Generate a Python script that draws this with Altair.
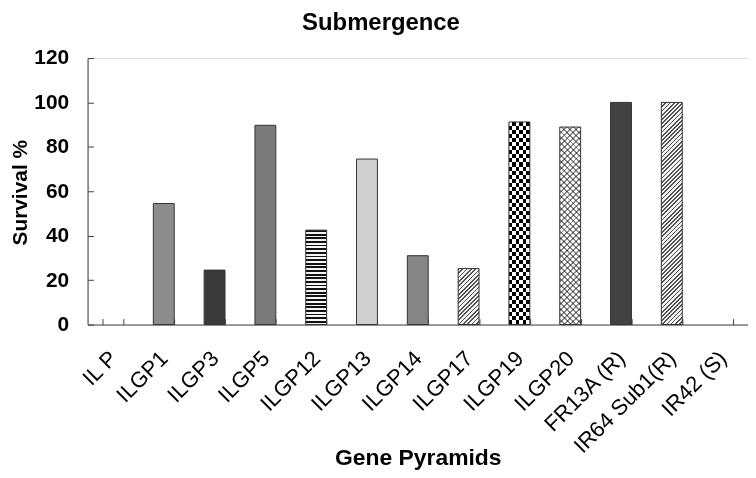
import altair as alt
import pandas as pd

# ---------------- data ----------------
categories = ["IL P", "ILGP1", "ILGP3", "ILGP5", "ILGP12", "ILGP13", "ILGP14",
              "ILGP17", "ILGP19", "ILGP20", "FR13A (R)", "IR64 Sub1(R)", "IR42 (S)"]
survival = [0, 54.5, 24.5, 89.7, 42.5, 74.5, 31.0, 25.2, 91.2, 88.9, 100, 100, 0]
y_ticks = [0, 20, 40, 60, 80, 100, 120]

# base tones (average grey of each bar's pattern)
fills = ["#ffffff", "#8c8c8c", "#3a3a3a", "#7a7a7a", "#9a9a9a", "#d0d0d0", "#858585",
         "#c2c2c2", "#808080", "#cccccc", "#424242", "#b6b6b6", "#ffffff"]

df = pd.DataFrame({"cat": categories, "val": survival})

FONT = "Liberation Sans"
BAR_W = 21          # bar width in px (style constant for the hatch geometry)
PX_PER_UNIT = 268 / 120


def stripes(n, c1, c2, frac, x1, y1, x2, y2):
    stops = []
    for i in range(n):
        a, b, c = i / n, (i + frac) / n, (i + 1) / n
        stops += [{"offset": a, "color": c1}, {"offset": b, "color": c1},
                  {"offset": b, "color": c2}, {"offset": c, "color": c2}]
    return {"gradient": "linear", "x1": x1, "y1": y1, "x2": x2, "y2": y2, "stops": stops}


def diag(value, period, c1, c2, frac, mirrored=False):
    h = value * PX_PER_UNIT
    p, q = BAR_W / h, 1.0
    s = (p + q) / (p * p + q * q)
    n = max(1, round((BAR_W + h) / 1.4142 / period))
    if mirrored:
        return stripes(n, c1, c2, frac, 1, 0, 1 - p * s, q * s)
    return stripes(n, c1, c2, frac, 0, 0, p * s, q * s)


x_enc = alt.X(
    "cat:N", sort=categories,
    scale=alt.Scale(paddingInner=0.589, paddingOuter=0.2945),
    axis=alt.Axis(
        title="Gene Pyramids", labelAngle=-45, labelAlign="right", labelBaseline="middle",
        labelFont=FONT, labelFontSize=22, labelColor="#000000", labelPadding=36,
        labelOffset=0, tickBand="extent", tickSize=alt.ExprRef("-6"), tickColor="#444444",
        domainColor="#444444", labelOverlap=False, labelBound=False,
        titleFont=FONT, titleFontSize=23, titleFontWeight="bold", titleColor="#000000",
        titleX=332, titleY=134, titleAlign="center", titleBaseline="middle",
    ),
)
y_enc = alt.Y(
    "val:Q",
    scale=alt.Scale(domain=[0, 120], nice=False),
    axis=alt.Axis(
        title="Survival %", values=y_ticks, grid=False, labelFont=FONT, labelFontSize=21,
        labelFontWeight="bold", labelColor="#000000", labelPadding=25,
        tickSize=alt.ExprRef("-6"), tickColor="#444444", domainColor="#444444",
        titleFont=FONT, titleFontSize=21, titleFontWeight="bold", titleColor="#000000",
        titleX=-67, titleY=135, titleAlign="center", titleBaseline="middle", titleAngle=-90,
    ),
)

base = alt.Chart(df)

bars = base.mark_bar(strokeWidth=0).encode(
    x=x_enc, y=y_enc,
    fill=alt.Fill("cat:N", scale=alt.Scale(domain=categories, range=fills), legend=None),
)


def pattern(cat, grad, blend=None):
    kw = {"fill": grad, "strokeWidth": 0}
    if blend:
        kw["blend"] = blend
    return base.mark_bar(**kw).encode(x=x_enc, y=y_enc).transform_filter(alt.datum.cat == cat)


val = dict(zip(categories, survival))

layers = [
    bars,
    pattern("ILGP12", stripes(26, "#111111", "#f4f4f4", 0.5, 0, 0, 0, 1)),
    pattern("ILGP17", diag(val["ILGP17"], 3.0, "#555555", "#f2f2f2", 0.4)),
    pattern("IR64 Sub1(R)", diag(val["IR64 Sub1(R)"], 3.0, "#555555", "#f2f2f2", 0.42)),
    pattern("ILGP19", stripes(25, "#000000", "#ffffff", 0.5, 0, 0, 0, 1)),
    pattern("ILGP19", stripes(3, "#ffffff", "#000000", 0.5, 0, 0, 1, 0), blend="difference"),
    pattern("ILGP20", diag(val["ILGP20"], 4.2, "#8a8a8a", "#ffffff", 0.33)),
    pattern("ILGP20", diag(val["ILGP20"], 4.2, "#8a8a8a", "#ffffff", 0.33, mirrored=True),
            blend="multiply"),
]

outline = base.mark_bar(fillOpacity=0, stroke="#333333", strokeWidth=1).encode(
    x=x_enc, y=y_enc).transform_filter(alt.datum.val > 0)
layers.append(outline)

chart = alt.layer(*layers).properties(
    width=664, height=268,
    title=alt.TitleParams("Submergence", font=FONT, fontSize=24, fontWeight="bold",
                          color="#000000", anchor="middle", dx=-37, offset=12),
    autosize="none",
    padding={"left": 80, "top": 49, "right": 0, "bottom": 145},
).configure_view(stroke=None).configure(background="#ffffff")

chart.save("out.html", embed_options={"renderer": "svg", "actions": False})
